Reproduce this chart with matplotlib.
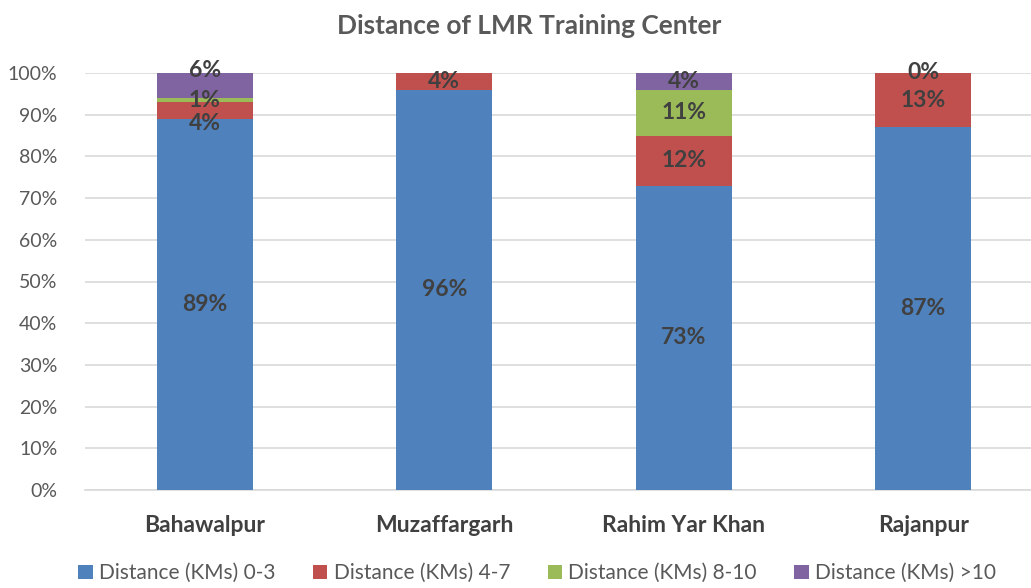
import matplotlib.pyplot as plt
import numpy as np

plt.rcParams['font.family'] = ['Lato', 'DejaVu Sans']

districts = ['Bahawalpur', 'Muzaffargarh', 'Rahim Yar Khan', 'Rajanpur']
series = ['Distance (KMs) 0-3', 'Distance (KMs) 4-7', 'Distance (KMs) 8-10', 'Distance (KMs) >10']
d_0_3 = [89, 96, 73, 87]
d_4_7 = [4, 4, 12, 13]
d_8_10 = [1, 0, 11, 0]
d_10_plus = [6, 0, 4, 0]
# which labels show up in the original chart
show_labels = [
    [True, True, True, True],
    [True, True, False, False],
    [True, True, True, True],
    [True, True, False, True],
]
colors = ['#4F81BD', '#C0504D', '#9BBB59', '#8064A2']

fig = plt.figure(figsize=(10.31, 5.88), dpi=100)
ax = fig.add_axes([85 / 1031, 98 / 588, 946 / 1031, 417 / 588])

x = np.arange(len(districts))
data = [d_0_3, d_4_7, d_8_10, d_10_plus]
bottom = np.zeros(len(districts))
for i, (vals, c, name) in enumerate(zip(data, colors, series)):
    vals = np.array(vals, dtype=float)
    ax.bar(x, vals, 0.4, bottom=bottom, color=c, label=name, zorder=3)
    for j in range(len(districts)):
        if show_labels[j][i]:
            y = bottom[j] + vals[j] / 2
            # tiny segments: Excel spreads the labels out, nudge like it does
            if j == 0 and i == 1:
                y = 87.8
            if j == 0 and i == 2:
                y = 93.3
            if j == 0 and i == 3:
                y = 100.7
            if j == 3 and i == 3:
                y = 100.2
            ax.text(x[j], y, f'{int(vals[j])}%', ha='center', va='center',
                    fontsize=16.5, fontweight='bold', color='#404040', zorder=4)
    bottom += vals

ax.set_ylim(0, 100)
ax.set_xlim(-0.5, 3.45)
ax.set_yticks(np.arange(0, 101, 10))
ax.set_yticklabels([f'{v}%' for v in range(0, 101, 10)], fontsize=14, color='#595959')
ax.set_xticks(x)
ax.set_xticklabels(districts, fontsize=16.5, fontweight='bold', color='#404040')
ax.tick_params(axis='both', length=0)
ax.tick_params(axis='x', pad=18)
ax.tick_params(axis='y', pad=20)
ax.grid(axis='y', color='#D9D9D9', linewidth=1.2, zorder=0)
for s in ['top', 'right', 'left']:
    ax.spines[s].set_visible(False)
ax.spines['bottom'].set_color('#D9D9D9')
ax.spines['bottom'].set_linewidth(1.2)

fig.text(0.513, 0.955, 'Distance of LMR Training Center', ha='center', va='center',
         fontsize=19, fontweight='bold', color='#595959')

fig.legend(loc='center', bbox_to_anchor=(0.521, 0.025), ncol=4, frameon=False,
           fontsize=15, handlelength=0.7, handleheight=0.7, handletextpad=0.3,
           columnspacing=1.8, labelcolor='#595959')

plt.savefig('out.png', dpi=100)
